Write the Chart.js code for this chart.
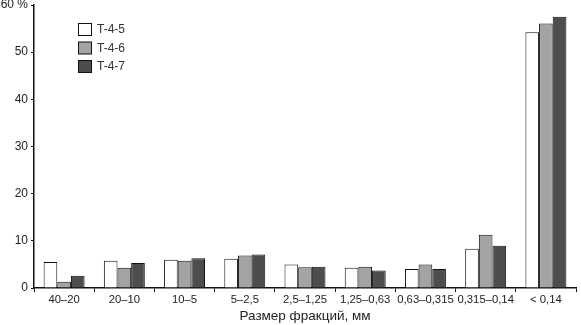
<!DOCTYPE html>
<html><head><meta charset="utf-8">
<script src="https://cdn.jsdelivr.net/npm/chart.js@4/dist/chart.umd.min.js"></script>
<style>html,body{margin:0;padding:0;background:#fff;overflow:hidden}#wrap{width:581px;height:325px;position:relative}</style>
</head><body><div id="wrap"><canvas id="c" width="581" height="325"></canvas></div>
<script>
const categories = ['40–20','20–10','10–5','5–2,5','2,5–1,25','1,25–0,63','0,63–0,315','0,315–0,14','< 0,14'];
const seriesNames = ['T-4-5','T-4-6','T-4-7'];
const t45 = [5.5, 5.8, 6.0, 6.2, 5.0, 4.3, 4.05, 8.3, 54.2];
const t46 = [1.35, 4.3, 5.8, 6.9, 4.4, 4.5, 5.0, 11.3, 56.1];
const t47 = [2.6, 5.3, 6.3, 7.1, 4.5, 3.7, 4.05, 8.95, 57.5];
const yTicks = [0,10,20,30,40,50,60];
const xTitle = 'Размер фракций, мм';
const fills = ['#ffffff','#a3a3a3','#4d4d4d'];
const FONT = '"Liberation Sans", Arial, sans-serif';

const legendPlugin = {
  id:'inLegend',
  afterDraw(chart){
    const ctx = chart.ctx;
    ctx.save();
    chart.data.datasets.forEach((ds,i)=>{
      const x=78.5, y=23.5+i*18.5;
      ctx.fillStyle=ds.backgroundColor; ctx.fillRect(x,y,13,12);
      ctx.strokeStyle='#111'; ctx.lineWidth=1; ctx.strokeRect(x,y,13,12);
      ctx.fillStyle='#333'; ctx.font='12px '+FONT;
      ctx.textBaseline='middle'; ctx.textAlign='left';
      ctx.fillText(ds.label, 97, y+6.5);
    });
    ctx.restore();
  }
};

new Chart(document.getElementById('c'), {
  type:'bar',
  data:{
    labels:categories,
    datasets:[t45,t46,t47].map((d,i)=>({label:seriesNames[i],data:d,backgroundColor:fills[i],borderColor:'#111',borderWidth:1,categoryPercentage:0.68,barPercentage:1.0}))
  },
  options:{
    responsive:false, animation:false, devicePixelRatio:1,
    layout:{padding:{top:5,right:5,left:0,bottom:0}},
    plugins:{legend:{display:false},tooltip:{enabled:false}},
    scales:{
      x:{
        grid:{display:true,drawOnChartArea:false,tickLength:4,color:'#111',offset:true},
        border:{display:true,color:'#111',width:1.5},
        ticks:{color:'#222',font:{family:FONT,size:11.3},padding:1,maxRotation:0,autoSkip:false},
        title:{display:true,text:xTitle,color:'#222',font:{family:FONT,size:13.5},padding:{top:4,bottom:1}},
        afterFit(s){s.height=37;s.paddingLeft=0;s.paddingRight=0;}
      },
      y:{
        min:0,max:60,
        afterBuildTicks(s){s.ticks=yTicks.map(v=>({value:v}));},
        grid:{display:true,drawOnChartArea:false,tickLength:3,color:'#111'},
        border:{display:true,color:'#111',width:1.5},
        ticks:{color:'#222',font:{family:FONT,size:12},padding:3,callback:(v)=>v===60?'60 %':v},
        afterFit(s){s.width=34;s.paddingTop=0;s.paddingBottom=0;}
      }
    }
  },
  plugins:[legendPlugin]
});
</script></body></html>
